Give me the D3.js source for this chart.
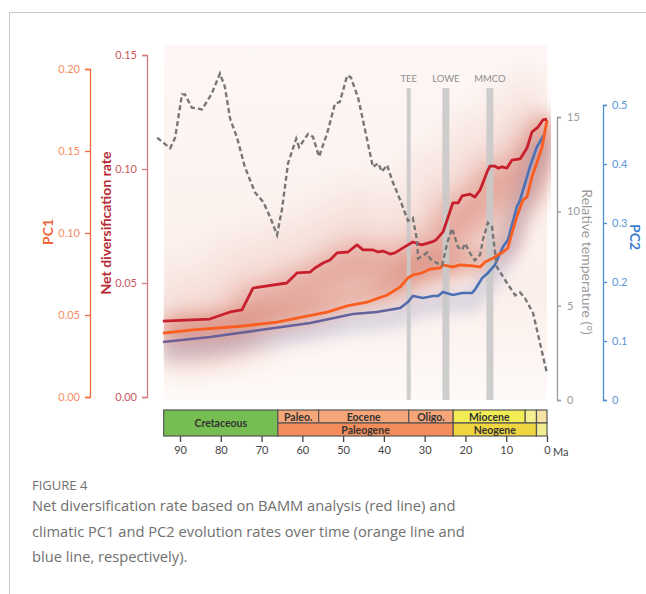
<!DOCTYPE html>
<html>
<head>
<meta charset="utf-8">
<script src="https://cdn.jsdelivr.net/npm/d3@7"></script>
<style>
  body { margin: 0; background: #fff; }
  svg { display: block; font-family: "Lato", sans-serif; }
</style>
</head>
<body>
<svg id="chart" width="646" height="594"></svg>
<script>
// temperature curve (Ma, relative temperature)
const tempAge = [95.6, 92.4, 91.2, 89.5, 88.8, 87.1, 84.6, 82.3, 80.2, 79.0, 77.7, 76.0, 74.1, 71.6, 69.6, 67.9, 66.2, 65.0, 63.5, 61.5, 60.8, 58.6, 57.4, 55.9, 53.9, 52.0, 50.8, 49.0, 48.1, 46.3, 44.6, 42.7, 41.4, 40.5, 39.2, 38.0, 36.0, 34.1, 32.9, 31.9, 31.6, 29.4, 28.7, 27.0, 25.7, 24.5, 23.3, 21.8, 20.8, 20.1, 18.4, 17.7, 16.4, 15.7, 14.5, 13.5, 12.3, 9.8, 7.8, 6.6, 5.4, 3.4, 1.7, 0];
const tempVal = [13.9, 13.35, 13.9, 16.2, 16.2, 15.5, 15.4, 16.2, 17.3, 16.6, 14.9, 13.9, 12.35, 11.0, 10.5, 9.7, 8.75, 10.1, 12.55, 13.85, 13.4, 14.1, 13.95, 12.9, 14.15, 15.7, 15.8, 17.2, 17.1, 16.0, 14.3, 12.35, 12.55, 12.1, 12.45, 11.65, 10.6, 9.5, 9.65, 8.5, 7.5, 7.8, 7.5, 7.25, 7.15, 8.3, 9.1, 8.1, 7.95, 8.3, 7.6, 7.4, 7.7, 8.5, 9.4, 9.2, 7.05, 6.2, 5.55, 5.7, 5.4, 4.6, 3.0, 1.4];

// net diversification rate (BAMM)
const netAge = [94.2, 82.7, 77.7, 74.8, 72.1, 63.8, 61.3, 58.1, 56.9, 54.9, 53.2, 51.5, 48.8, 46.6, 45.1, 42.7, 41.4, 40.2, 38.5, 37.3, 35.3, 32.9, 30.7, 28.2, 27.2, 25.5, 24.5, 23.1, 21.8, 20.8, 18.9, 17.7, 16.4, 14.7, 14.0, 12.8, 12.0, 11.0, 9.8, 8.6, 6.6, 4.9, 3.7, 2.2, 1.0, 0];
const netRate = [0.0333, 0.0342, 0.0373, 0.0382, 0.0478, 0.0500, 0.0544, 0.0548, 0.0566, 0.0588, 0.0601, 0.0632, 0.0636, 0.0667, 0.0645, 0.0645, 0.0636, 0.0640, 0.0627, 0.0632, 0.0654, 0.0680, 0.0667, 0.0680, 0.0689, 0.0724, 0.0776, 0.0851, 0.0851, 0.0882, 0.0890, 0.0877, 0.0908, 0.0987, 0.1013, 0.1013, 0.1004, 0.1009, 0.1004, 0.1039, 0.1044, 0.1092, 0.1162, 0.1184, 0.1215, 0.1219];

// PC1 evolution rate
const pc1Age = [94.2, 86.8, 74.5, 66.2, 59.8, 53.9, 49.0, 44.1, 39.2, 36.0, 34.1, 32.9, 30.7, 28.7, 26.2, 25.5, 23.1, 21.3, 18.1, 16.4, 15.2, 13.2, 10.8, 9.6, 8.6, 7.4, 5.9, 4.9, 3.7, 2.5, 1.2, 0];
const pc1Rate = [0.0390, 0.0409, 0.0433, 0.0457, 0.0488, 0.0518, 0.0555, 0.0579, 0.0622, 0.0671, 0.0726, 0.0744, 0.0756, 0.0780, 0.0787, 0.0805, 0.0793, 0.0805, 0.0799, 0.0793, 0.0823, 0.0848, 0.0884, 0.0909, 0.1000, 0.1098, 0.1201, 0.1220, 0.1341, 0.1427, 0.1524, 0.1689];

// PC2 evolution rate
const pc2Age = [94.2, 82.6, 70.4, 58.1, 47.6, 41.7, 36.0, 34.1, 32.9, 30.4, 28.0, 26.7, 25.5, 23.1, 20.8, 18.4, 17.7, 15.9, 14.5, 12.8, 10.8, 9.6, 7.4, 6.6, 4.9, 4.2, 2.5, 1.2, 0.5];
const pc2Rate = [0.0983, 0.1068, 0.1186, 0.1305, 0.1458, 0.1492, 0.1559, 0.1661, 0.1763, 0.1729, 0.1763, 0.1763, 0.1831, 0.1780, 0.1814, 0.1814, 0.1864, 0.2068, 0.2153, 0.2288, 0.2593, 0.2712, 0.3271, 0.3390, 0.3780, 0.3949, 0.4288, 0.4441, 0.4525];

// climatic events
const eventNames = ["TEE", "LOWE", "MMCO"];
const eventAges = [33.9, 24.8, 14.0];
const eventWidths = [4, 7, 7];

// geological time scale
const periodNames = ["Cretaceous"];
const periodStart = [94];
const periodEnd = [66];
const epochNames = ["Paleo.", "Eocene", "Oligo.", "Miocene", "", ""];
const epochStart = [66, 56, 33.9, 23, 5.33, 2.58];
const epochEnd = [56, 33.9, 23, 5.33, 2.58, 0];
const epochColors = ["#f7a679", "#f7a679", "#f7a679", "#f2ec55", "#f4f08f", "#f6e2a4"];
const eraNames = ["Paleogene", "Neogene", ""];
const eraStart = [66, 23, 2.58];
const eraEnd = [23, 2.58, 0];
const eraColors = ["#f48d5b", "#efd53f", "#f1ee92"];

const xTicks = [90, 80, 70, 60, 50, 40, 30, 20, 10, 0];
const pc1Ticks = [0, 0.05, 0.10, 0.15, 0.20];
const netTicks = [0, 0.05, 0.10, 0.15];
const tempTicks = [0, 5, 10, 15];
const pc2Ticks = [0, 0.1, 0.2, 0.3, 0.4, 0.5];

const svg = d3.select('#chart');

// frame of the figure box
svg.append('path')
  .attr('d', 'M9.5,594 V12.5 H646')
  .attr('fill', 'none')
  .attr('stroke', '#c8c8c8')
  .attr('stroke-width', 1);

const x = d3.scaleLinear().domain([90, 0]).range([180, 547]);
const yNet = d3.scaleLinear().domain([0, 0.15]).range([397, 55]);
const yPC1 = d3.scaleLinear().domain([0, 0.2]).range([397, 69]);
const yTemp = d3.scaleLinear().domain([0, 15]).range([400, 117]);
const yPC2 = d3.scaleLinear().domain([0, 0.5]).range([400, 105]);

const plotLeft = x(94), plotRight = x(0);

const defs = svg.append('defs');
defs.append('clipPath').attr('id', 'plotclip')
  .append('rect')
  .attr('x', plotLeft).attr('y', 45)
  .attr('width', plotRight - plotLeft + 4).attr('height', 355);
[['blur1', 14], ['blur2', 7], ['blur3', 4]].forEach(([id, sd]) => {
  defs.append('filter').attr('id', id)
    .attr('x', '-20%').attr('y', '-50%').attr('width', '140%').attr('height', '200%')
    .append('feGaussianBlur').attr('stdDeviation', sd);
});
const wash = defs.append('linearGradient').attr('id', 'wash')
  .attr('x1', 0).attr('y1', 0).attr('x2', 0).attr('y2', 1);
wash.append('stop').attr('offset', '0%').attr('stop-color', '#fdf7f5');
wash.append('stop').attr('offset', '70%').attr('stop-color', '#fbefeb');
wash.append('stop').attr('offset', '100%').attr('stop-color', '#fefaf8');

const blueGrad = defs.append('linearGradient').attr('id', 'bluegrad')
  .attr('gradientUnits', 'userSpaceOnUse')
  .attr('x1', plotLeft).attr('y1', 0).attr('x2', plotRight).attr('y2', 0);
blueGrad.append('stop').attr('offset', '0%').attr('stop-color', '#6e5f96');
blueGrad.append('stop').attr('offset', '58%').attr('stop-color', '#62649f');
blueGrad.append('stop').attr('offset', '68%').attr('stop-color', '#4b6fb3');
blueGrad.append('stop').attr('offset', '100%').attr('stop-color', '#4872b8');

const lineNet = d3.line().x(d => x(d[0])).y(d => yNet(d[1]));
const linePC1 = d3.line().x(d => x(d[0])).y(d => yPC1(d[1]));
const linePC2 = d3.line().x(d => x(d[0])).y(d => yPC2(d[1]));
const lineTemp = d3.line().x(d => x(d[0])).y(d => yTemp(d[1]));

const netData = d3.zip(netAge, netRate);
const pc1Data = d3.zip(pc1Age, pc1Rate);
const pc2Data = d3.zip(pc2Age, pc2Rate);
const tempData = d3.zip(tempAge, tempVal);

// haze for the posterior rate clouds
const haze = svg.append('g').attr('clip-path', 'url(#plotclip)');
haze.append('rect')
  .attr('x', plotLeft).attr('y', 45)
  .attr('width', plotRight - plotLeft).attr('height', 355)
  .attr('fill', 'url(#wash)');
haze.append('path').datum(netData)
  .attr('d', lineNet)
  .attr('fill', 'none').attr('stroke', '#eab3a8').attr('stroke-width', 100)
  .attr('opacity', 0.22).attr('filter', 'url(#blur1)');
haze.append('path').datum(netData)
  .attr('d', lineNet)
  .attr('transform', 'translate(0,16)')
  .attr('fill', 'none').attr('stroke', '#d06a5a').attr('stroke-width', 38)
  .attr('opacity', 0.5).attr('filter', 'url(#blur1)');
haze.append('path').datum(pc1Data)
  .attr('d', linePC1)
  .attr('transform', 'translate(0,-4)')
  .attr('fill', 'none').attr('stroke', '#d47a66').attr('stroke-width', 26)
  .attr('opacity', 0.35).attr('filter', 'url(#blur2)');
haze.append('path').datum(pc2Data)
  .attr('d', linePC2)
  .attr('transform', 'translate(0,9)')
  .attr('fill', 'none').attr('stroke', '#a0a6cc').attr('stroke-width', 20)
  .attr('opacity', 0.35).attr('filter', 'url(#blur2)');

// climatic event bars
const events = svg.append('g');
eventNames.forEach((name, i) => {
  events.append('rect')
    .attr('x', x(eventAges[i]) - eventWidths[i] / 2)
    .attr('y', 88)
    .attr('width', eventWidths[i])
    .attr('height', 312)
    .attr('fill', '#c9c9c9')
    .attr('opacity', 0.9);
  events.append('text')
    .attr('x', x(eventAges[i]))
    .attr('y', 82)
    .attr('text-anchor', 'middle')
    .attr('font-size', 9.5)
    .attr('fill', '#8e8e8e')
    .text(name);
});

// rate lines
svg.append('path').datum(pc2Data)
  .attr('d', linePC2)
  .attr('fill', 'none').attr('stroke', 'url(#bluegrad)').attr('stroke-width', 2.6);
svg.append('path').datum(pc1Data)
  .attr('d', linePC1)
  .attr('fill', 'none').attr('stroke', '#fa5d20').attr('stroke-width', 2.8);
svg.append('path').datum(netData)
  .attr('d', lineNet)
  .attr('fill', 'none').attr('stroke', '#c81f2d').attr('stroke-width', 2.8)
  .attr('stroke-linejoin', 'round');
svg.append('path').datum(tempData)
  .attr('d', lineTemp)
  .attr('fill', 'none').attr('stroke', '#777').attr('stroke-width', 2.4)
  .attr('stroke-dasharray', '5,3');

// axes
function styleAxis(g, lineColor, textColor) {
  g.selectAll('path, line').attr('stroke', lineColor).attr('stroke-width', 1.3);
  g.selectAll('text').attr('fill', textColor).attr('font-size', 11).attr('font-family', 'Lato, sans-serif');
}

svg.append('g')
  .attr('transform', 'translate(90,0)')
  .call(d3.axisLeft(yPC1).tickValues(pc1Ticks).tickFormat(d3.format('.2f')).tickSize(5).tickPadding(5))
  .call(g => styleAxis(g, '#f26b3b', '#f58c63'));

svg.append('g')
  .attr('transform', 'translate(147,0)')
  .call(d3.axisLeft(yNet).tickValues(netTicks).tickFormat(d3.format('.2f')).tickSize(5).tickPadding(5))
  .call(g => styleAxis(g, '#d67b7e', '#c9585e'));

svg.append('g')
  .attr('transform', 'translate(557,0)')
  .call(d3.axisRight(yTemp).tickValues(tempTicks).tickFormat(d3.format('d')).tickSize(4).tickPadding(6))
  .call(g => styleAxis(g, '#9a9a9a', '#9a9a9a'));

svg.append('g')
  .attr('transform', 'translate(603,0)')
  .call(d3.axisRight(yPC2).tickValues(pc2Ticks).tickFormat(d => d === 0 ? '0' : d3.format('.1f')(d)).tickSize(4).tickPadding(5))
  .call(g => styleAxis(g, '#4a8ed6', '#5a96d8'));

// axis titles
svg.append('text')
  .attr('transform', 'translate(53,232) rotate(-90)')
  .attr('text-anchor', 'middle')
  .attr('font-size', 14).attr('font-weight', 'bold').attr('fill', '#f0643a')
  .text('PC1');
svg.append('text')
  .attr('transform', 'translate(111,223) rotate(-90)')
  .attr('text-anchor', 'middle')
  .attr('font-size', 14).attr('font-weight', 'bold').attr('fill', '#b82a34')
  .text('Net diversification rate');
svg.append('text')
  .attr('transform', 'translate(582,262) rotate(90)')
  .attr('text-anchor', 'middle')
  .attr('font-size', 14).attr('fill', '#9a9a9a')
  .text('Relative temperature (°)');
svg.append('text')
  .attr('transform', 'translate(630,237) rotate(90)')
  .attr('text-anchor', 'middle')
  .attr('font-size', 14).attr('font-weight', 'bold').attr('fill', '#3d7dcc')
  .text('PC2');

// geological time scale
const ts = svg.append('g');
const rowTop = 410, rowMid = 423, rowBot = 436;
function box(start, end, y0, y1, fill, label) {
  ts.append('rect')
    .attr('x', x(start)).attr('y', y0)
    .attr('width', x(end) - x(start)).attr('height', y1 - y0)
    .attr('fill', fill).attr('stroke', '#555').attr('stroke-width', 1.2);
  if (label) {
    ts.append('text')
      .attr('x', (x(start) + x(end)) / 2).attr('y', (y0 + y1) / 2 + 4)
      .attr('text-anchor', 'middle')
      .attr('font-size', 10.5).attr('font-weight', 'bold').attr('fill', '#333')
      .text(label);
  }
}
periodNames.forEach((n, i) => box(periodStart[i], periodEnd[i], rowTop, rowBot, '#76be52', n));
epochNames.forEach((n, i) => box(epochStart[i], epochEnd[i], rowTop, rowMid, epochColors[i], n));
eraNames.forEach((n, i) => box(eraStart[i], eraEnd[i], rowMid, rowBot, eraColors[i], n));

const xAxis = svg.append('g')
  .attr('transform', `translate(0,${rowBot})`)
  .call(d3.axisBottom(x).tickValues(xTicks).tickSize(6).tickPadding(4));
xAxis.select('.domain').remove();
xAxis.selectAll('line').attr('stroke', '#444').attr('stroke-width', 1.3);
xAxis.selectAll('text').attr('fill', '#444').attr('font-size', 11).attr('font-family', 'Lato, sans-serif');
svg.append('text')
  .attr('x', x(0) + 6).attr('y', rowBot + 20)
  .attr('font-size', 11).attr('fill', '#444')
  .text('Ma');

// caption
const cap = svg.append('g').attr('font-family', '"Open Sans", sans-serif').attr('fill', '#707070');
cap.append('text').attr('x', 32).attr('y', 490).attr('font-size', 13).text('FIGURE 4');
const capLines = [
  'Net diversification rate based on BAMM analysis (red line) and',
  'climatic PC1 and PC2 evolution rates over time (orange line and',
  'blue line, respectively).'
];
capLines.forEach((t, i) => {
  cap.append('text').attr('x', 32).attr('y', 511 + i * 25.5).attr('font-size', 14.7).text(t);
});
</script>
</body>
</html>
